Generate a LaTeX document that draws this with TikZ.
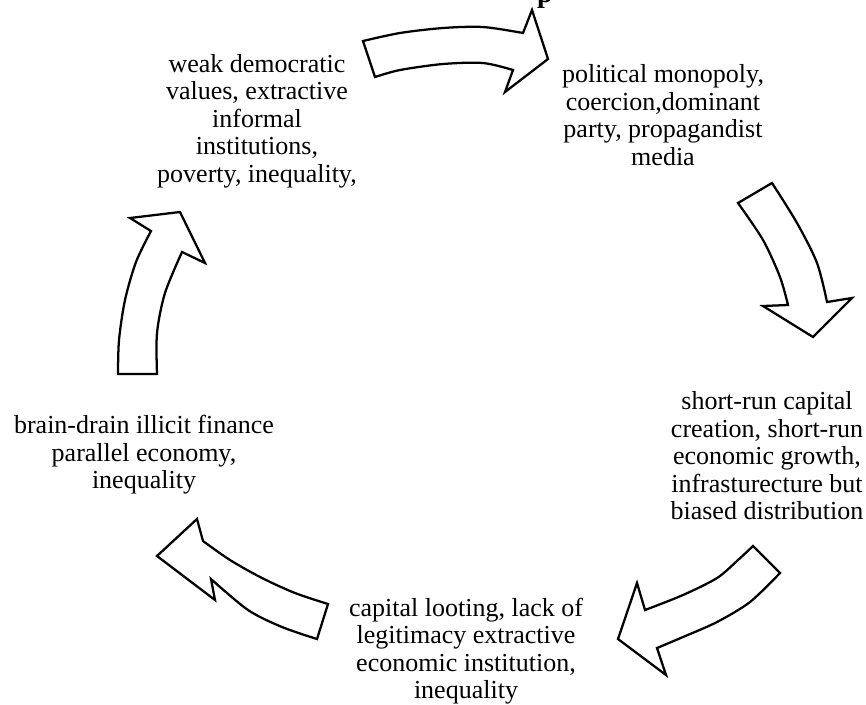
\documentclass[tikz,border=0pt]{standalone}
\usepackage{fontspec}
\setmainfont{Liberation Serif}
\begin{document}
\begin{tikzpicture}[x=0.75pt,y=-0.75pt,
  blk/.style={draw=black, line width=1.7pt, fill=white, line join=miter},
  lbl/.style={align=center, font=\fontsize{19.5pt}{20.6pt}\selectfont, inner sep=0pt}]
\useasboundingbox (0,0) rectangle (866,704);
% partial title glyph
\node[font=\bfseries\fontsize{21pt}{21pt}\selectfont, anchor=base, inner sep=0pt] (ttl) at (545,2) {p};
% arrow 1 (top, pointing right)
\draw[blk] (363,41) -- (375,77) -- plot[smooth] coordinates {(375,77) (400,70) (443,64) (483,63) (513,70)}
  -- (505,92) -- (548,59) -- (532,10) -- (523,33)
  -- plot[smooth] coordinates {(523,33) (483,27) (443,28) (400,33) (363,41)} -- cycle;
% arrow 2 (right, pointing down)
\draw[blk] (772,183) -- (738,203) -- plot[smooth] coordinates {(738,203) (763,240) (780,277) (788,305)}
  -- (763,306) -- (813,337) -- (852,298) -- (827,302)
  -- plot[smooth] coordinates {(827,302) (817,263) (797,223) (772,183)} -- cycle;
% arrow 3 (bottom right, pointing left)
\draw[blk] (753,546) -- (780,573) -- plot[smooth] coordinates {(780,573) (750,602) (717,622) (683,637) (657,648)}
  -- (666,675) -- (618,639) -- (637,583) -- (645,610)
  -- plot[smooth] coordinates {(645,610) (683,595) (717,578) (738,560) (753,546)} -- cycle;
% arrow 4 (bottom left, pointing up-left)
\draw[blk] (328,604) -- (317,639) -- plot[smooth] coordinates {(317,639) (282,627) (248,610) (211,579)}
  -- (215,600) -- (157,556) -- (197,519) -- (203,541)
  -- plot[smooth] coordinates {(203,541) (230,560) (262,578) (295,593) (328,604)} -- cycle;
% arrow 5 (left, pointing up)
\draw[blk] (118,374) -- (157,374) -- plot[smooth] coordinates {(157,374) (157,333) (165,293) (182,252)}
  -- (205,263) -- (180,212) -- (130,218) -- (151,231)
  -- plot[smooth] coordinates {(151,231) (136,262) (125,300) (119,340) (118,374)} -- cycle;
% labels
\node[lbl] (tl) at (257,121) {weak democratic\\values, extractive\\informal\\institutions,\\poverty, inequality,};
\node[lbl] (tr) at (663,115) {political monopoly,\\coercion,dominant\\party, propagandist\\media};
\node[lbl] (rt) at (767,456) {short-run capital\\creation, short-run\\economic growth,\\infrasturecture but\\biased distribution};
\node[lbl] (bt) at (466,651) {capital looting, lack of\\legitimacy extractive\\economic institution,\\inequality};
\node[lbl] (lt) at (144,455) {brain-drain illicit finance\\parallel economy,\\inequality};
\end{tikzpicture}
\end{document}
